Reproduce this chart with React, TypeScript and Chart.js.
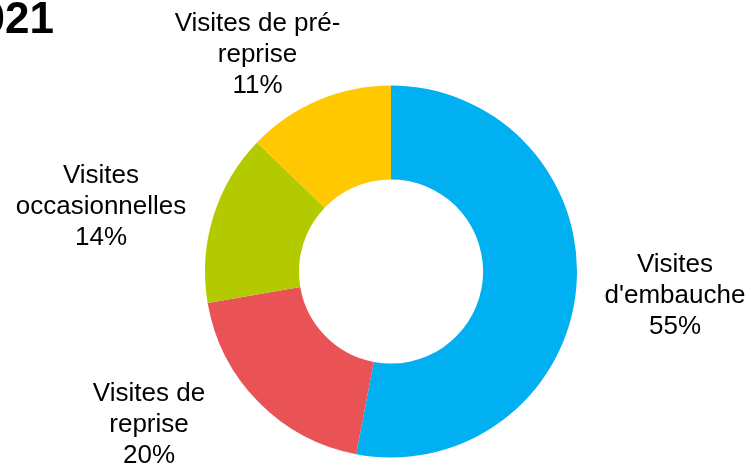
import React, { useEffect, useRef } from "react";
import { Chart, registerables } from "chart.js";

Chart.register(...registerables);

// ---- data ----
const categories: string[][] = [
  ["Visites", "d'embauche"],
  ["Visites de", "reprise"],
  ["Visites", "occasionnelles"],
  ["Visites de pré-", "reprise"],
];
const values: number[] = [53, 19.3, 14.9, 12.8];
const percentLabels: string[] = ["55%", "20%", "14%", "11%"];
const titleText = "2021";

// ---- styles / layout ----
const colors = ["#00B0F0", "#E95355", "#B3C900", "#FFC800"];
const FONT = "Liberation Sans, Arial, Helvetica, sans-serif";
// label anchor offsets from doughnut centre (x centre of text, baseline of first line)
const labelOffsets: [number, number][] = [
  [284, 0.5],
  [-242, 129.5],
  [-290, -89],
  [-133.5, -240.5],
];
const LINE_H = 31;

const labelPlugin = {
  id: "outerLabels",
  afterDraw(chart: any) {
    const ctx = chart.ctx;
    const meta = chart.getDatasetMeta(0);
    if (!meta.data.length) return;
    const cx = meta.data[0].x;
    const cy = meta.data[0].y;
    ctx.save();
    ctx.fillStyle = "#000000";
    ctx.font = `26px ${FONT}`;
    ctx.textAlign = "center";
    ctx.textBaseline = "alphabetic";
    categories.forEach((lines, i) => {
      const [dx, dy] = labelOffsets[i];
      const all = [...lines, percentLabels[i]];
      all.forEach((t, j) => {
        ctx.fillText(t, cx + dx, cy + dy + j * LINE_H);
      });
    });
    // title (partially cut at the left edge)
    ctx.font = `bold 44px ${FONT}`;
    ctx.textAlign = "left";
    ctx.fillText(titleText, -44, 33);
    ctx.restore();
  },
};

export default function App() {
  const ref = useRef<HTMLCanvasElement | null>(null);
  useEffect(() => {
    document.body.style.margin = "0";
    const chart = new Chart(ref.current as HTMLCanvasElement, {
      type: "doughnut",
      data: {
        labels: categories.map((c) => c.join(" ")),
        datasets: [
          {
            data: values,
            backgroundColor: colors,
            borderWidth: 0,
            hoverOffset: 0,
          },
        ],
      },
      options: {
        responsive: false,
        animation: false,
        devicePixelRatio: 1,
        cutout: "49.5%",
        rotation: 0,
        layout: { padding: { left: 205, right: 174, top: 85.5, bottom: 10.5 } },
        plugins: {
          legend: { display: false },
          tooltip: { enabled: false },
          title: { display: false },
        },
      },
      plugins: [labelPlugin],
    });
    return () => chart.destroy();
  }, []);
  return (
    <div style={{ position: "absolute", left: 0, top: 0, width: 751, height: 468, background: "#fff" }}>
      <canvas ref={ref} width={751} height={468} />
    </div>
  );
}
